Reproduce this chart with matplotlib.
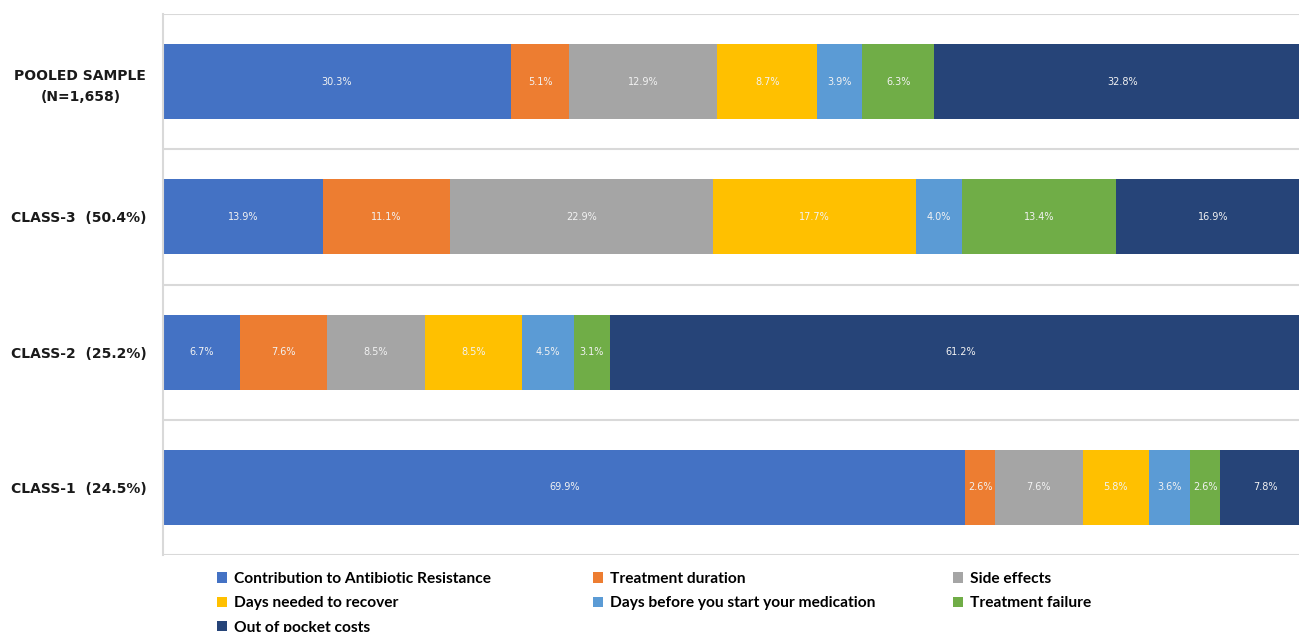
import matplotlib
matplotlib.use("Agg")
from matplotlib import pyplot as plt
from matplotlib.patches import Patch
import numpy as np

# Chart data (rows from bottom to top)
groups = ["CLASS-1  (24.5%)", "CLASS-2  (25.2%)", "CLASS-3  (50.4%)",
          "POOLED SAMPLE\n(N=1,658)"]
attributes = ["Contribution to Antibiotic Resistance", "Treatment duration",
              "Side effects", "Days needed to recover",
              "Days before you start your medication", "Treatment failure",
              "Out of pocket costs"]
antibiotic_resistance = [69.9, 6.7, 13.9, 30.3]
treatment_duration = [2.6, 7.6, 11.1, 5.1]
side_effects = [7.6, 8.5, 22.9, 12.9]
days_to_recover = [5.8, 8.5, 17.7, 8.7]
days_before_start = [3.6, 4.5, 4.0, 3.9]
treatment_failure = [2.6, 3.1, 13.4, 6.3]
pocket_costs = [7.8, 61.2, 16.9, 32.8]

series = [antibiotic_resistance, treatment_duration, side_effects,
          days_to_recover, days_before_start, treatment_failure, pocket_costs]
colors = ["#4472C4", "#ED7D31", "#A5A5A5", "#FFC000",
          "#5B9BD5", "#70AD47", "#264478"]

GRID_COLOR = "#D9D9D9"

fig = plt.figure(figsize=(12.99, 6.32), dpi=100)
ax = fig.add_axes([163 / 1299, 77 / 632, 1148 / 1299, 541 / 632])

y = np.arange(len(groups))
left = np.zeros(len(groups))
for vals, col in zip(series, colors):
    vals = np.array(vals)
    bars = ax.barh(y, vals, left=left, height=0.555, color=col, linewidth=0)
    for rect, v in zip(bars, vals):
        ax.text(rect.get_x() + rect.get_width() / 2, rect.get_y() + rect.get_height() / 2,
                "{:.1f}%".format(v), ha="center", va="center",
                color="#F2F2F2", fontsize=7)
    left += vals

ax.set_xlim(0, 100)
ax.set_ylim(-0.5, len(groups) - 0.5)
ax.set_xticks([])
ax.set_yticks(y)
ax.set_yticklabels(groups, fontsize=10, fontweight="bold", color="#1a1a1a",
                   linespacing=1.6, multialignment="center")
ax.set_yticks(np.arange(len(groups) + 1) - 0.5, minor=True)
ax.tick_params(axis="y", which="both", length=0, pad=12)
ax.grid(axis="y", which="minor", color=GRID_COLOR, linewidth=1.5)
ax.set_axisbelow(True)
for side in ["top", "right", "bottom"]:
    ax.spines[side].set_visible(False)
ax.spines["left"].set_color(GRID_COLOR)
ax.spines["left"].set_linewidth(1.5)

# Legend laid out in three columns, filled row by row
legend_cols = [[0, 3, 6], [1, 4], [2, 5]]
col_x = [217 / 1299, 593 / 1299, 953 / 1299]
for xs, idx in zip(col_x, legend_cols):
    handles = [Patch(facecolor=colors[i], edgecolor="none") for i in idx]
    labels = [attributes[i] for i in idx]
    fig.legend(handles, labels, loc="upper left",
               bbox_to_anchor=(xs, 1 - 572 / 632), frameon=False,
               prop={"family": "Lato", "weight": "bold", "size": 11.2},
               handlelength=0.62, handleheight=0.62, handletextpad=0.45,
               labelspacing=0.66, borderpad=0, borderaxespad=0)

fig.savefig("out.png", dpi=100)
